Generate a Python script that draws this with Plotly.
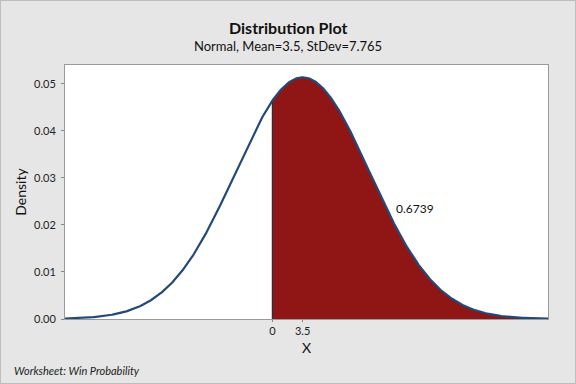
import numpy as np
import plotly.graph_objects as go

# Distribution parameters (from the chart subtitle)
mean = 3.5
stdev = 7.765
lower_bound = 0.0
area_label = "0.6739"
title_text = "Distribution Plot"
subtitle_text = "Normal, Mean=3.5, StDev=7.765"
footer_text = "Worksheet: Win Probability"
x_title = "X"
y_title = "Density"
x_tick_vals = [0, 3.5]
x_tick_text = ["0", "3.5"]
y_tick_vals = [0.00, 0.01, 0.02, 0.03, 0.04, 0.05]
x_range = [-24.0, 31.9]
y_range = [0, 0.0540]

def normal_pdf(x):
    return np.exp(-0.5 * ((x - mean) / stdev) ** 2) / (stdev * np.sqrt(2 * np.pi))

xs = np.linspace(x_range[0], x_range[1], 600)
ys = normal_pdf(xs)
xs_fill = np.linspace(lower_bound, x_range[1], 400)
ys_fill = normal_pdf(xs_fill)

curve_color = "#23497A"
fill_color = "#901515"
font = "Lato, Open Sans, DejaVu Sans, sans-serif"

W, H = 576, 384
L, R, T, B = 65, 28, 65, 65
PW, PH = W - L - R, H - T - B

def px_x(p):
    return (p - L) / PW

def px_y(p):
    return (H - B - p) / PH

fig = go.Figure()
fig.add_trace(go.Scatter(x=xs_fill, y=ys_fill, mode="lines", fill="tozeroy",
                         fillcolor=fill_color, line=dict(width=0, color=fill_color),
                         hoverinfo="skip", showlegend=False))
fig.add_trace(go.Scatter(x=[lower_bound, lower_bound], y=[0, normal_pdf(lower_bound)],
                         mode="lines", line=dict(color="#2B2B3A", width=1.2),
                         showlegend=False))
fig.add_trace(go.Scatter(x=xs, y=ys, mode="lines",
                         line=dict(color=curve_color, width=2.2), showlegend=False))

fig.add_annotation(x=14.1, y=0.0235, text=area_label, showarrow=False,
                   xanchor="left", yanchor="middle",
                   font=dict(family=font, size=12, color="#111111"))

fig.add_annotation(x=px_x(288), y=px_y(27), xref="paper", yref="paper",
                   text="<b>" + title_text + "</b>", showarrow=False,
                   xanchor="center", yanchor="middle",
                   font=dict(family=font, size=16, color="#111111"))
fig.add_annotation(x=px_x(288), y=px_y(46), xref="paper", yref="paper",
                   text=subtitle_text, showarrow=False,
                   xanchor="center", yanchor="middle",
                   font=dict(family=font, size=13, color="#111111"))
fig.add_annotation(x=0.5, y=px_y(347), xref="paper", yref="paper",
                   text=x_title, showarrow=False,
                   xanchor="center", yanchor="middle",
                   font=dict(family=font, size=14, color="#111111"))
fig.add_annotation(x=px_x(12), y=px_y(370), xref="paper", yref="paper",
                   text="<i>" + footer_text + "</i>", showarrow=False,
                   xanchor="left", yanchor="middle",
                   font=dict(family=font, size=11, color="#222222"))

fig.update_layout(
    width=W, height=H,
    margin=dict(l=L, r=R, t=T, b=B),
    paper_bgcolor="#E6E6E6",
    plot_bgcolor="#FFFFFF",
    font=dict(family=font, size=11, color="#222222"),
    xaxis=dict(range=x_range, tickvals=x_tick_vals, ticktext=x_tick_text,
               showgrid=False, zeroline=False, ticks="outside", ticklen=2,
               tickcolor="#888888", showline=True, linecolor="#9A9A9A", linewidth=1,
               mirror=True),
    yaxis=dict(range=y_range, tickvals=y_tick_vals, tickformat=".2f",
               showgrid=False, zeroline=False, ticks="outside", ticklen=3,
               ticklabelstandoff=3,
               tickcolor="#888888", showline=True, linecolor="#9A9A9A", linewidth=1,
               mirror=True,
               title=dict(text=y_title, font=dict(family=font, size=14, color="#111111"),
                          standoff=4)),
)

fig.add_shape(type="rect", xref="paper", yref="paper",
              x0=px_x(0.5), x1=px_x(W - 0.5),
              y0=px_y(H - 0.5), y1=px_y(0.5),
              line=dict(color="#BDBDBD", width=1), layer="below")

fig.write_html("out.html", config={"displayModeBar": False},
               post_script="document.body.style.margin='0';")
